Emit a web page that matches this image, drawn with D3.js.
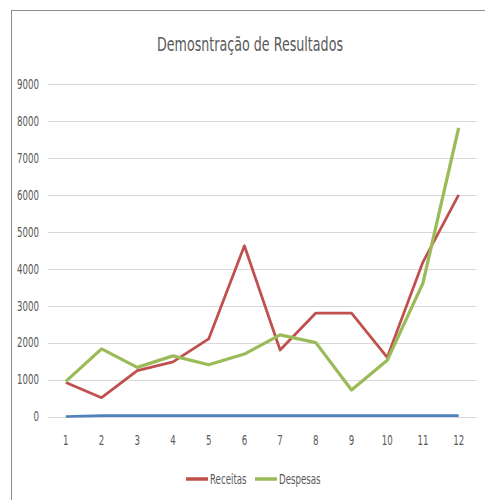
<!DOCTYPE html>
<html>
<head>
<meta charset="utf-8">
<script src="https://cdn.jsdelivr.net/npm/d3@7"></script>
<style>
  html, body { margin: 0; padding: 0; background: #fff; }
  svg { display: block; }
  text { font-family: "DejaVu Sans", sans-serif; fill: #595959; }
</style>
</head>
<body>
<svg id="chart" width="485" height="500"></svg>
<script>
const title = "Demosntração de Resultados";
const categories = ["1","2","3","4","5","6","7","8","9","10","11","12"];
const receitas = [920, 510, 1240, 1480, 2100, 4620, 1800, 2800, 2800, 1600, 4180, 6000];
const despesas = [950, 1830, 1330, 1640, 1400, 1690, 2210, 2000, 720, 1520, 3610, 7810];
const resultado = [0, 25, 25, 25, 25, 25, 25, 25, 25, 25, 25, 25];
const yTicks = [0, 1000, 2000, 3000, 4000, 5000, 6000, 7000, 8000, 9000];
const seriesNames = ["Receitas", "Despesas"];
const colors = { Receitas: "#C0504D", Despesas: "#9BBB59", Resultado: "#4F81BD" };

const svg = d3.select("#chart");
const squeeze = "scale(0.64,1)";

// frame
svg.append("rect").attr("x", 11.5).attr("y", 10.5).attr("width", 600).attr("height", 600)
  .attr("fill", "none").attr("stroke", "#8c8c8c").attr("stroke-width", 1);

const x = d3.scaleBand().domain(categories).range([48, 476.5]);
const y = d3.scaleLinear().domain([0, 9000]).range([416.5, 84]);

// gridlines
svg.append("g").selectAll("line").data(yTicks).join("line")
  .attr("x1", 48).attr("x2", 476.5)
  .attr("y1", d => Math.round(y(d)) + 0.5).attr("y2", d => Math.round(y(d)) + 0.5)
  .attr("stroke", "#d9d9d9").attr("stroke-width", 1);

// y axis labels
const yAxis = d3.axisLeft(y).tickValues(yTicks).tickSize(0).tickPadding(0).tickFormat(d3.format("d"));
const gy = svg.append("g").attr("transform", "translate(39,0)").call(yAxis);
gy.select(".domain").remove();
gy.selectAll("text").style("font-size", "13.5px").attr("fill", "#595959")
  .style("font-family", "'DejaVu Sans', sans-serif").attr("x", 0).attr("transform", squeeze);

// x axis labels
const xAxis = d3.axisBottom(x).tickSize(0).tickPadding(0);
const gx = svg.append("g").attr("transform", "translate(0,435)").call(xAxis);
gx.select(".domain").remove();
gx.selectAll("text").style("font-size", "13.5px").attr("fill", "#595959")
  .style("font-family", "'DejaVu Sans', sans-serif").attr("transform", squeeze);

const cx = d => x(d) + x.bandwidth() / 2;
const line = d3.line().x((d, i) => cx(categories[i])).y(d => y(d));

svg.append("path").datum(resultado).attr("d", line)
  .attr("fill", "none").attr("stroke", colors.Resultado).attr("stroke-width", 2.75).attr("stroke-linejoin", "round");
svg.append("path").datum(receitas).attr("d", line)
  .attr("fill", "none").attr("stroke", colors.Receitas).attr("stroke-width", 2.75).attr("stroke-linejoin", "round");
svg.append("path").datum(despesas).attr("d", line)
  .attr("fill", "none").attr("stroke", colors.Despesas).attr("stroke-width", 3.25).attr("stroke-linejoin", "round");

// title
svg.append("text").attr("x", 250).attr("y", 51).attr("text-anchor", "middle")
  .style("font-size", "20px").text(title)
  .attr("textLength", 186).attr("lengthAdjust", "spacingAndGlyphs");

// legend
const legendX = [186, 255];
const leg = svg.append("g").selectAll("g").data(seriesNames).join("g")
  .attr("transform", (d, i) => `translate(${legendX[i]},479)`);
leg.append("line").attr("x1", 0).attr("x2", 22).attr("y1", 0).attr("y2", 0)
  .attr("stroke", d => colors[d]).attr("stroke-width", 3.5);
leg.append("text").attr("transform", "translate(24,5) " + squeeze)
  .style("font-size", "13.5px").text(d => d);
</script>
</body>
</html>
